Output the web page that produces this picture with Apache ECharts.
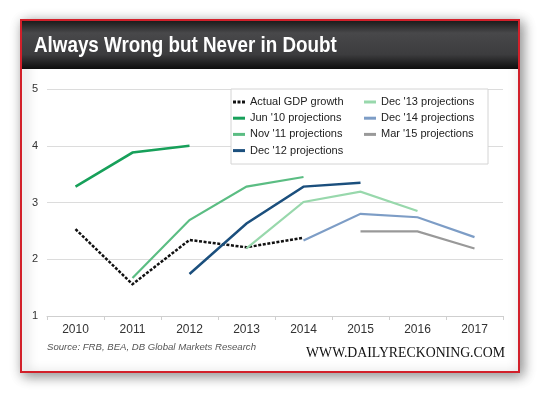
<!DOCTYPE html>
<html>
<head>
<meta charset="utf-8">
<script src="https://cdn.jsdelivr.net/npm/echarts@6/dist/echarts.min.js"></script>
<style>
html,body{margin:0;padding:0;background:#fff;}
#c{width:540px;height:393px;}
</style>
</head>
<body>
<div id="c"></div>
<script>
const categories = ['2010','2011','2012','2013','2014','2015','2016','2017'];
const yTicks = [1,2,3,4,5];
const actualGDP = [2.53,1.56,2.34,2.21,2.38,null,null,null];
const jun10 = [3.28,3.88,4.00,null,null,null,null,null];
const nov11 = [null,1.67,2.69,3.28,3.45,null,null,null];
const dec12 = [null,null,1.74,2.63,3.28,3.35,null,null];
const dec13 = [null,null,null,2.19,3.01,3.19,2.85,null];
const dec14 = [null,null,null,null,2.33,2.80,2.74,2.39];
const mar15 = [null,null,null,null,null,2.49,2.49,2.19];
const seriesNames = ['Actual GDP growth',"Jun '10 projections","Nov '11 projections","Dec '12 projections","Dec '13 projections","Dec '14 projections","Mar '15 projections"];
const title = 'Always Wrong but Never in Doubt';
const sourceText = 'Source: FRB, BEA, DB Global Markets Research';
const siteText = 'WWW.DAILYRECKONING.COM';

const colors = ['#111111','#17a05a','#5bbd83','#1b4f7d','#98d8ac','#7d9dc6','#999999'];
const widths = [2.5,2.5,2.2,2.5,2.2,2.2,2.2];
const datas = [actualGDP,jun10,nov11,dec12,dec13,dec14,mar15];

const chart = echarts.init(document.getElementById('c'), null, {renderer:'canvas'});
const series = datas.map((d,i)=>({
  name: seriesNames[i],
  type:'line',
  data:d,
  symbol:'none',
  z: 3,
  connectNulls:false,
  color: colors[i],
  lineStyle:{color:colors[i],width:widths[i],type: i===0 ? [3,1.6] : 'solid', cap:'butt', join:'miter'}
}));

const dottedIcon = 'path://M0,0h3v3h-3z M4.5,0h3v3h-3z M9,0h3v3h-3z';
const legendText = {fontFamily:'Liberation Sans, Arial, sans-serif',fontSize:11,color:'#222',lineHeight:13};
const legend1Data = seriesNames.slice(0,4).map((n,i)=> i===0 ? {name:n,icon:dottedIcon} : {name:n});
chart.setOption({
  animation:false,
  backgroundColor:'#fff',
  grid:{left:47,right:37,top:89,bottom:77},
  xAxis:{type:'category',data:categories,boundaryGap:true,
    axisLine:{show:true,lineStyle:{color:'#cfcfcf',width:1}},
    axisTick:{show:true,length:4,lineStyle:{color:'#cfcfcf'}},
    axisLabel:{color:'#333',fontSize:12,fontFamily:'Liberation Sans, Arial, sans-serif',margin:8},
    splitLine:{show:false}},
  yAxis:{type:'value',min:yTicks[0],max:yTicks[yTicks.length-1],interval:1,
    axisLine:{show:false},axisTick:{show:false},
    axisLabel:{color:'#333',fontSize:11,fontFamily:'Liberation Sans, Arial, sans-serif',margin:9},
    splitLine:{lineStyle:{color:'#dcdcdc',width:1.2}}},
  legend:[
    {data:legend1Data,orient:'vertical',left:233,top:95.5,itemWidth:12,itemHeight:3,itemGap:3.2,
     icon:'rect',textStyle:legendText,z:6,padding:0,selectedMode:false},
    {data:seriesNames.slice(4),orient:'vertical',left:364,top:95.5,itemWidth:12,itemHeight:3,itemGap:3.2,
     icon:'rect',textStyle:legendText,z:6,padding:0,selectedMode:false}
  ],
  graphic:[
    {type:'rect',z:-10,silent:true,shape:{x:21,y:20,width:498,height:352},
     style:{fill:'#fff',stroke:'#d2202a',lineWidth:2,shadowBlur:12,shadowColor:'rgba(0,0,0,0.45)',shadowOffsetX:3,shadowOffsetY:3}},
    {type:'rect',z:-9,silent:true,shape:{x:22,y:21,width:496,height:48},
     style:{fill:new echarts.graphic.LinearGradient(0,0,0,1,[
       {offset:0,color:'#1c1c1c'},{offset:0.25,color:'#48484a'},{offset:0.7,color:'#3c3c3e'},{offset:1,color:'#0e0e0e'}])}},
    {type:'text',z:-8,silent:true,x:34,y:46,scaleX:0.855,
     style:{text:title,fill:'#fff',font:'bold 22px "Liberation Sans", Arial, sans-serif',textVerticalAlign:'middle',textAlign:'left'}},
    {type:'rect',z:4,silent:true,shape:{x:231,y:89,width:257,height:75},
     style:{fill:'#fff',stroke:'#d4d4d4',lineWidth:1}},
    {type:'text',z:5,silent:true,x:47,y:347,
     style:{text:sourceText,fill:'#555',font:'italic 9.6px "Liberation Sans", Arial, sans-serif',textVerticalAlign:'middle'}},
    {type:'text',z:5,silent:true,x:505,y:353,
     style:{text:siteText,fill:'#111',font:'13.8px "Liberation Serif", "Times New Roman", serif',textVerticalAlign:'middle',textAlign:'right'}}
  ],
  series:series
});
</script>
</body>
</html>
